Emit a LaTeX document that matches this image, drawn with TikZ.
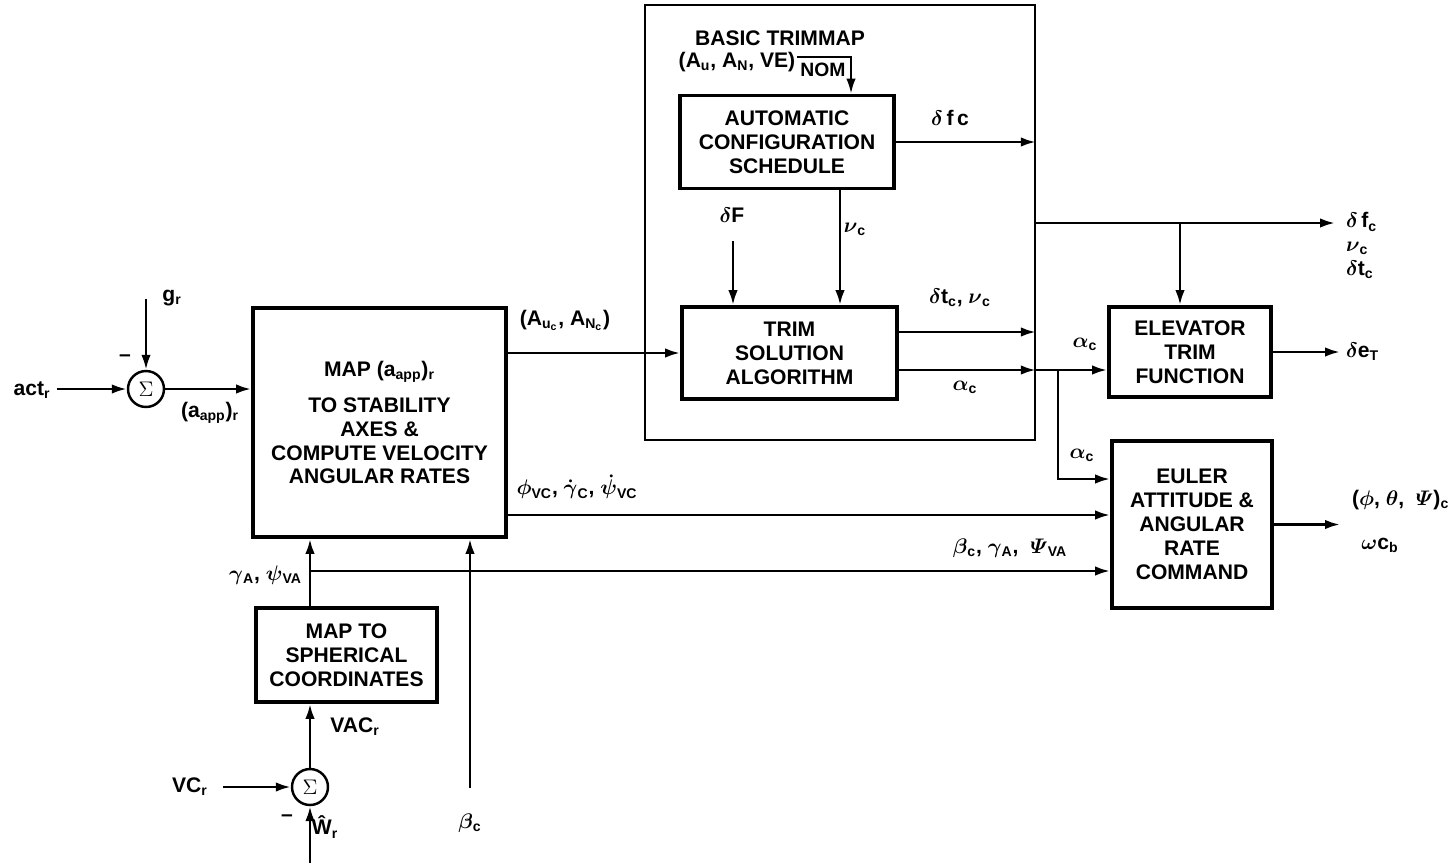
\documentclass[tikz,border=0pt]{standalone}
\usepackage{amsmath}
\usepackage{fontspec}
\setmainfont{Liberation Sans}
\usetikzlibrary{arrows.meta,positioning}
\newcommand{\gk}[1]{$\boldsymbol{#1}$}

\begin{document}
\begin{tikzpicture}[x=0.02cm,y=-0.02cm,
  font=\fontsize{12}{13.6}\selectfont\bfseries,
  blk/.style={draw,line width=2.2pt,align=center,inner sep=2pt},
  frame/.style={draw,line width=1pt},
  sumc/.style={draw,circle,line width=1.4pt,minimum size=0.72cm,inner sep=0pt},
  lbl/.style={inner sep=1pt},
  arr/.style={-{Latex[length=3mm,width=1.9mm]},line width=1.5pt}
]
\useasboundingbox (0,0) rectangle (1449,863);

% basic trimmap
\node[frame,minimum width=7.8cm,minimum height=8.7cm] (tmap) at (840,222.5) {};
\node[lbl] (tmaptxt) at (780,38) {BASIC TRIMMAP};
\node[lbl] (nomtxt) at (737,62) {(A\textsubscript{u}, A\textsubscript{N}, VE)};
\node[lbl,font=\fontsize{11}{12}\selectfont\bfseries] (nomsub) at (823,70) {NOM};
\node[blk,minimum width=4.28cm,minimum height=1.86cm] (auto) at (787,142) {AUTOMATIC\\CONFIGURATION\\SCHEDULE};
\node[blk,minimum width=4.3cm,minimum height=1.84cm] (trim) at (789.5,353) {TRIM\\SOLUTION\\ALGORITHM};

% blocks outside
\node[blk,minimum width=5.06cm,minimum height=4.58cm] (map) at (379.5,422.5)
  {MAP (a\textsubscript{app})\textsubscript{r}\\[7pt]TO STABILITY\\AXES \&\\COMPUTE VELOCITY\\ANGULAR RATES};
\node[blk,minimum width=3.62cm,minimum height=1.88cm] (sph) at (346.5,655) {MAP TO\\SPHERICAL\\COORDINATES};
\node[blk,minimum width=3.24cm,minimum height=1.8cm] (elev) at (1190,352) {ELEVATOR\\TRIM\\FUNCTION};
\node[blk,minimum width=3.2cm,minimum height=3.34cm] (euler) at (1192,524.5) {EULER\\ATTITUDE \&\\ANGULAR\\RATE\\COMMAND};

% summing junctions
\node[sumc] (sum1) at (146,389) {$\Sigma$};
\node[sumc] (sum2) at (310,787) {$\Sigma$};

% free ends and bends
\coordinate (actin) at (57,389);
\coordinate (gin) at (146,299);
\coordinate (vcin) at (223,787);
\coordinate (win) at (310,863);
\coordinate (betain) at (470,788);
\coordinate (gx) at (310,0);
\coordinate (gam) at (310,571);
\coordinate (phiy) at (0,515);
\coordinate (nomc) at (797,57);
\coordinate (nomx) at (851,0);
\coordinate (nux) at (840,0);
\coordinate (dfin) at (733,241);
\coordinate (tty) at (0,332);
\coordinate (aly) at (0,370);
\coordinate (alx) at (1058,370);
\coordinate (ale) at (0,479);
\coordinate (dfy) at (0,223);
\coordinate (brx) at (1180,223);
\coordinate (dfout) at (1335,223);
\coordinate (deout) at (1340,352);
\coordinate (eulout) at (1340,524.5);

% connectors
\draw[arr] (actin) -- (sum1.west);
\draw[arr] (gin) -- (sum1.north);
\draw[arr] (sum1.east) -- (map.west |- sum1);
\draw[arr] (map.east |- trim.west) -- (trim.west);
\draw[arr] (map.east |- phiy) -- (euler.west |- phiy);
\draw[arr] (sph.north -| gx) -- (map.south -| gx);
\draw[arr] (gam) -- (euler.west |- gam);
\draw[arr] (sum2.north) -- (sph.south -| sum2);
\draw[arr] (vcin) -- (sum2.west);
\draw[arr] (win) -- (sum2.south);
\draw[arr] (betain) -- (map.south -| betain);
\draw[arr,line width=1.2pt] (nomc) -| (auto.north -| nomx);
\draw[arr] (auto.east) -- (auto.east -| tmap.east);
\draw[arr] (auto.south -| nux) -- (trim.north -| nux);
\draw[arr] (dfin) -- (trim.north -| dfin);
\draw[arr] (trim.east |- tty) -- (tmap.east |- tty);
\draw[arr] (trim.east |- aly) -- (tmap.east |- aly);
\draw[arr] (tmap.east |- aly) -- (elev.west |- aly);
\draw[arr] (alx) |- (euler.west |- ale);
\draw[arr] (tmap.east |- dfy) -- (dfout);
\draw[arr] (brx) -- (elev.north -| brx);
\draw[arr] (elev.east |- deout) -- (deout);
\draw[arr] (euler.east |- eulout) -- (eulout);

% labels
\node[lbl] (actlbl) at (32,390) {act\textsubscript{r}};
\node[lbl] (glbl) at (172,298) {g\textsubscript{r}};
\node[lbl] (min1) at (125,358) {--};
\node[lbl] (aapp) at (210,413) {(a\textsubscript{app})\textsubscript{r}};
\node[lbl] (auclbl) at (565,320) {(A\textsubscript{u\textsubscript{c}}, A\textsubscript{N\textsubscript{c}})};
\node[lbl] (philbl) at (577,487) {\gk{\phi}\textsubscript{VC}, \gk{\dot\gamma}\textsubscript{C}, \gk{\dot\psi}\textsubscript{VC}};
\node[lbl,anchor=east] (gamlbl) at (304,575) {\gk{\gamma}\textsubscript{A}, \gk{\psi}\textsubscript{VA}};
\node[lbl] (betlbl) at (1010,548) {\gk{\beta}\textsubscript{c}, \gk{\gamma}\textsubscript{A}, \ \gk{\varPsi}\textsubscript{VA}};
\node[lbl] (vaclbl) at (355,727) {VAC\textsubscript{r}};
\node[lbl] (vclbl) at (190,787) {VC\textsubscript{r}};
\node[lbl] (min2) at (287,818) {--};
\node[lbl] (whlbl) at (325,827) {\^{W}\textsubscript{r}};
\node[lbl] (betclbl) at (470,823) {\gk{\beta}\textsubscript{c}};
\node[lbl] (dfclbl) at (950,118) {\gk{\delta}\,f\,c};
\node[lbl] (nulbl) at (855,229) {\gk{\nu}\textsubscript{c}};
\node[lbl] (dFlbl) at (732,215) {\gk{\delta}F};
\node[lbl] (ttlbl) at (960,298) {\gk{\delta}t\textsubscript{c}, \gk{\nu}\textsubscript{c}};
\node[lbl] (allbl) at (965,387) {\gk{\alpha}\textsubscript{c}};
\node[lbl] (al2lbl) at (1085,344) {\gk{\alpha}\textsubscript{c}};
\node[lbl] (al3lbl) at (1082,455) {\gk{\alpha}\textsubscript{c}};
\node[lbl,anchor=west] (dfolbl) at (1344,222) {\gk{\delta}\,f\textsubscript{c}};
\node[lbl,anchor=west] (nuolbl) at (1344,248) {\gk{\nu}\textsubscript{c}};
\node[lbl,anchor=west] (dtolbl) at (1344,270) {\gk{\delta}t\textsubscript{c}};
\node[lbl,anchor=west] (delbl) at (1344,352) {\gk{\delta}e\textsubscript{T}};
\node[lbl,anchor=west] (eullbl) at (1350,500) {(\gk{\phi}, \gk{\theta}, \ \gk{\varPsi})\textsubscript{c}};
\node[lbl] (omlbl) at (1380,545) {\gk{\omega}c\textsubscript{b}};
\end{tikzpicture}
\end{document}
